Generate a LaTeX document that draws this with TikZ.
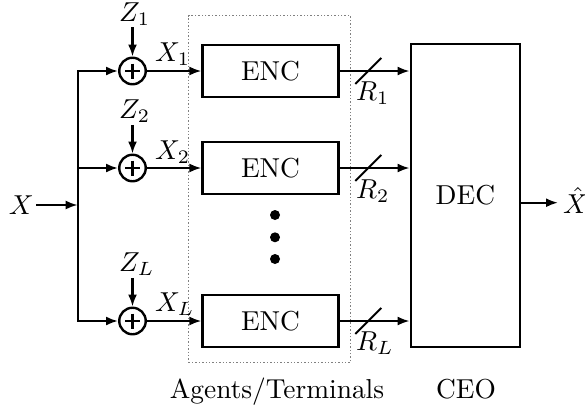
\documentclass[tikz,border=0pt]{standalone}
\usepackage{graphicx}
\usetikzlibrary{arrows.meta,calc}
\newcommand{\bigtxt}[1]{\scalebox{2.74}{#1}}
\begin{document}
\begin{tikzpicture}[x=1pt,y=-1pt,
  every node/.style={font=\fontsize{10}{12}\selectfont, inner sep=0pt},
  line/.style={line width=2.2pt},
  arr/.style={line width=2.2pt,-{Latex[length=12pt,width=9pt]}},
  encbox/.style={draw,line width=2.2pt,minimum width=136pt,minimum height=52.5pt},
  adder/.style={draw,circle,line width=2.4pt,minimum size=26.5pt},
  plusbar/.style={line width=2.6pt},
  bigdot/.style={fill,circle,minimum size=10pt},
  slash/.style={line width=2pt},
  groupbox/.style={draw=black!50,dotted,line width=1.4pt}]
\useasboundingbox (0,0) rectangle (585,413);

% group box
\node[groupbox,minimum width=162pt,minimum height=346.6pt] (agents) at (269.6,189) {};

% adders
\node[adder] (c1) at (132.5,71) {};
\node[adder] (c2) at (132.5,168) {};
\node[adder] (cL) at (132.5,321) {};
\foreach \c in {c1,c2,cL}{
  \draw[plusbar] ($(\c.center)+(-7.5,0)$) -- ($(\c.center)+(7.5,0)$);
  \draw[plusbar] ($(\c.center)+(0,-7.5)$) -- ($(\c.center)+(0,7.5)$);
}

% encoders
\node[encbox] (e1) at (270.5,71) {\bigtxt{ENC}};
\node[encbox] (e2) at (270.5,168) {\bigtxt{ENC}};
\node[encbox] (eL) at (270.5,321) {\bigtxt{ENC}};

% decoder
\node[draw,line width=2.2pt,minimum width=109.3pt,minimum height=302.4pt] (dec) at (465.35,195.5) {\bigtxt{DEC}};

% dots
\node[bigdot] (d1) at (275,215) {};
\node[bigdot] (d2) at (275,237.3) {};
\node[bigdot] (d3) at (275,259) {};

% input
\node[anchor=east] (X) at (34,205) {\bigtxt{$X$}};
\coordinate (bm) at (77.7,205);
\coordinate (b1) at (77.7,71);
\coordinate (b2) at (77.7,168);
\coordinate (bL) at (77.7,321);
\draw[arr] ([xshift=2pt]X.east) -- (bm);
\draw[line,line cap=rect] (b1) -- (bL);
\draw[arr] (b1) -- (c1);
\draw[arr] (b2) -- (c2);
\draw[arr] (bL) -- (cL);

% noise
\node[anchor=base west] (Z1) at (119,21) {\bigtxt{$Z_1$}};
\node[anchor=base west] (Z2) at (119,118.5) {\bigtxt{$Z_2$}};
\node[anchor=base west] (ZL) at (119,271.5) {\bigtxt{$Z_L$}};
\draw[arr] ($(Z1.south -| c1.north)+(0,2)$) -- (c1.north);
\draw[arr] ($(Z2.south -| c2.north)+(0,2)$) -- (c2.north);
\draw[arr] ($(ZL.south -| cL.north)+(0,2)$) -- (cL.north);

% X_i
\node[anchor=base west] (X1) at (155,61.5) {\bigtxt{$X_1$}};
\node[anchor=base west] (X2) at (155,159) {\bigtxt{$X_2$}};
\node[anchor=base west] (XL) at (155,311) {\bigtxt{$X_L$}};
\draw[arr] (c1) -- (e1);
\draw[arr] (c2) -- (e2);
\draw[arr] (cL) -- (eL);

% rates
\draw[arr] (e1) -- (e1 -| dec.west);
\draw[arr] (e2) -- (e2 -| dec.west);
\draw[arr] (eL) -- (eL -| dec.west);
\coordinate (s1) at (368.3,71);
\coordinate (s2) at (368.3,168);
\coordinate (sL) at (368.3,321);
\foreach \s in {s1,s2,sL}{
  \draw[slash] ($(\s)+(-13,13)$) -- ($(\s)+(13,-13)$);
}
\node[anchor=base west] (R1) at (356,100.5) {\bigtxt{$R_1$}};
\node[anchor=base west] (R2) at (356,198) {\bigtxt{$R_2$}};
\node[anchor=base west] (RL) at (356,350) {\bigtxt{$R_L$}};

% output
\coordinate (oend) at (558,202.7);
\draw[arr] (dec.east |- oend) -- (oend);
\node[anchor=base west] (xhat) at (563,213.5) {\bigtxt{$\hat{X}$}};

% captions
\node[anchor=base] (agl) at (277,398) {\bigtxt{Agents/Terminals}};
\node[anchor=base] (ceo) at (466,398) {\bigtxt{CEO}};
\end{tikzpicture}
\end{document}
